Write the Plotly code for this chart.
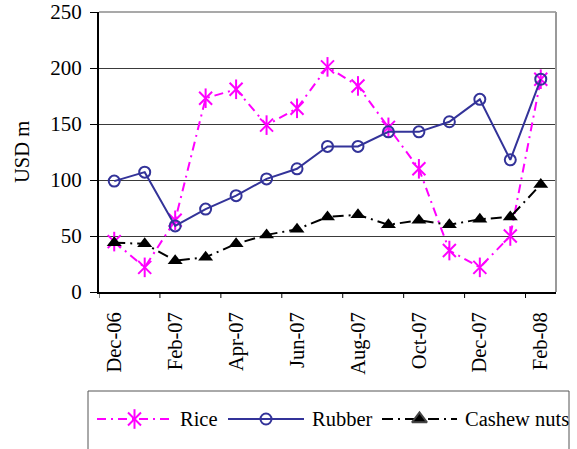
import plotly.graph_objects as go

# Monthly export values, USD million
months = ["Dec-06", "Jan-07", "Feb-07", "Mar-07", "Apr-07", "May-07", "Jun-07", "Jul-07",
          "Aug-07", "Sep-07", "Oct-07", "Nov-07", "Dec-07", "Jan-08", "Feb-08"]
rice = [45, 22, 64, 173, 181, 149, 164, 201, 184, 147, 110, 37, 22, 50, 190]
rubber = [99, 107, 59, 74, 86, 101, 110, 130, 130, 143, 143, 152, 172, 118, 190]
cashew = [44, 43, 28, 31, 43, 51, 56, 67, 69, 60, 64, 60, 65, 67, 96]

y_ticks = [0, 50, 100, 150, 200, 250]

W, H = 577, 449
FONT = "Liberation Serif, Times New Roman, serif"
MAGENTA = "#FF00FF"
NAVY = "#333399"

# plot-area edges in page pixels
PL, PR, PT, PB = 99, 556, 12, 292

def px_x(v):
    return v / W

def px_y(v):
    return 1 - v / H

idx = list(range(len(months)))
label_idx = idx[::2]
label_txt = [months[i] for i in label_idx]
boundary_ticks = [i - 0.5 for i in label_idx]

fig = go.Figure()

rice_dash = "9px,5px,2px,5px"
cashew_dash = "11px,5px,2px,5px"

fig.add_trace(go.Scatter(
    x=idx, y=rice, mode="lines+markers", name="Rice",
    line=dict(color=MAGENTA, width=2, dash=rice_dash),
    marker=dict(symbol="x-thin-open", size=13, color=MAGENTA, line=dict(width=2)),
    showlegend=False))
fig.add_trace(go.Scatter(
    x=idx, y=rice, mode="markers",
    marker=dict(symbol="line-ns-open", size=14, color=MAGENTA, line=dict(width=2)),
    showlegend=False, hoverinfo="skip"))
fig.add_trace(go.Scatter(
    x=idx, y=rubber, mode="lines+markers", name="Rubber",
    line=dict(color=NAVY, width=2),
    marker=dict(symbol="circle-open", size=11, color=NAVY, line=dict(width=2)),
    showlegend=False))
fig.add_trace(go.Scatter(
    x=idx, y=cashew, mode="lines+markers", name="Cashew nuts",
    line=dict(color="black", width=2, dash=cashew_dash),
    marker=dict(symbol="triangle-up", size=13, color="black"),
    showlegend=False))

# Legend samples drawn on a page-pixel axis pair
legend_items = [
    ("Rice", 97, 172, 178, MAGENTA, rice_dash, "x-thin-open", 13),
    ("Rubber", 228, 304, 310, NAVY, "solid", "circle-open", 11),
    ("Cashew nuts", 382, 457, 463, "black", cashew_dash, "triangle-up", 13),
]
LEG_Y = 419
for name, x0, x1, tx, col, dash, sym, size in legend_items:
    mid = (x0 + x1) / 2
    fig.add_trace(go.Scatter(
        x=[x0, x1], y=[LEG_Y, LEG_Y], mode="lines", xaxis="x3", yaxis="y3",
        line=dict(color=col, width=2, dash=dash), showlegend=False, hoverinfo="skip"))
    fig.add_trace(go.Scatter(
        x=[mid], y=[LEG_Y], mode="markers", xaxis="x3", yaxis="y3",
        marker=dict(symbol=sym, size=size, color=col, line=dict(width=2)),
        showlegend=False, hoverinfo="skip"))
    if sym == "x-thin-open":
        fig.add_trace(go.Scatter(
            x=[mid], y=[LEG_Y], mode="markers", xaxis="x3", yaxis="y3",
            marker=dict(symbol="line-ns-open", size=14, color=col, line=dict(width=2)),
            showlegend=False, hoverinfo="skip"))
    fig.add_annotation(x=px_x(tx), y=px_y(LEG_Y), xref="paper", yref="paper",
                       text=name, showarrow=False, xanchor="left", yanchor="middle",
                       font=dict(family=FONT, size=20.5, color="black"))

x_dom = [px_x(PL), px_x(PR)]
y_dom = [px_y(PB), px_y(PT)]

fig.update_layout(
    width=W, height=H,
    margin=dict(l=0, r=0, t=0, b=0, autoexpand=False),
    paper_bgcolor="white", plot_bgcolor="rgba(0,0,0,0)",
    font=dict(family=FONT, size=20, color="black"),
    showlegend=False,
    xaxis=dict(domain=x_dom, range=[-0.5, len(months) - 0.5], anchor="y",
               tickmode="array", tickvals=label_idx, ticktext=label_txt,
               tickangle=-90, ticks="outside", ticklen=10,
               tickcolor="rgba(0,0,0,0)",
               tickfont=dict(family=FONT, size=20.5, color="black"),
               showline=True, linecolor="black", linewidth=2,
               showgrid=False, zeroline=False, fixedrange=True, automargin=False),
    yaxis=dict(domain=y_dom, range=[0, 250], anchor="x",
               tickmode="array", tickvals=y_ticks,
               ticks="outside", ticklen=7, tickwidth=1, tickcolor="black",
               ticklabelstandoff=4,
               tickfont=dict(family=FONT, size=21, color="black"),
               showline=True, linecolor="black", linewidth=2,
               showgrid=True, gridcolor="#3a3a3a", gridwidth=1,
               zeroline=False, fixedrange=True, automargin=False),
    xaxis3=dict(domain=[0, 1], range=[0, W], visible=False, fixedrange=True,
                anchor="y3", automargin=False),
    yaxis3=dict(domain=[0, 1], range=[H, 0], visible=False, fixedrange=True,
                anchor="x3", automargin=False),
)

# category-boundary tick marks below the x axis
for b in boundary_ticks:
    fig.add_shape(type="line", xref="x", yref="paper",
                  x0=b, x1=b, y0=px_y(PB), y1=px_y(PB + 6),
                  line=dict(color="black", width=1))

# y-axis title
fig.add_annotation(x=px_x(22), y=px_y(152), xref="paper", yref="paper",
                   text="USD m", textangle=-90, showarrow=False,
                   xanchor="center", yanchor="middle",
                   font=dict(family=FONT, size=20.5, color="black"))

# plot-area frame: top and right edges in grey
fig.add_shape(type="line", xref="paper", yref="paper",
              x0=px_x(PL), x1=px_x(PR), y0=px_y(PT), y1=px_y(PT),
              line=dict(color="#8c8c8c", width=1.5))
fig.add_shape(type="line", xref="paper", yref="paper",
              x0=px_x(PR), x1=px_x(PR), y0=px_y(PT), y1=px_y(PB),
              line=dict(color="#9a9a9a", width=2))

# legend box
fig.add_shape(type="rect", xref="paper", yref="paper",
              x0=px_x(88), x1=px_x(569), y0=px_y(391), y1=px_y(460),
              line=dict(color="#555555", width=1), fillcolor="rgba(0,0,0,0)")

fig.write_html("out.html")
